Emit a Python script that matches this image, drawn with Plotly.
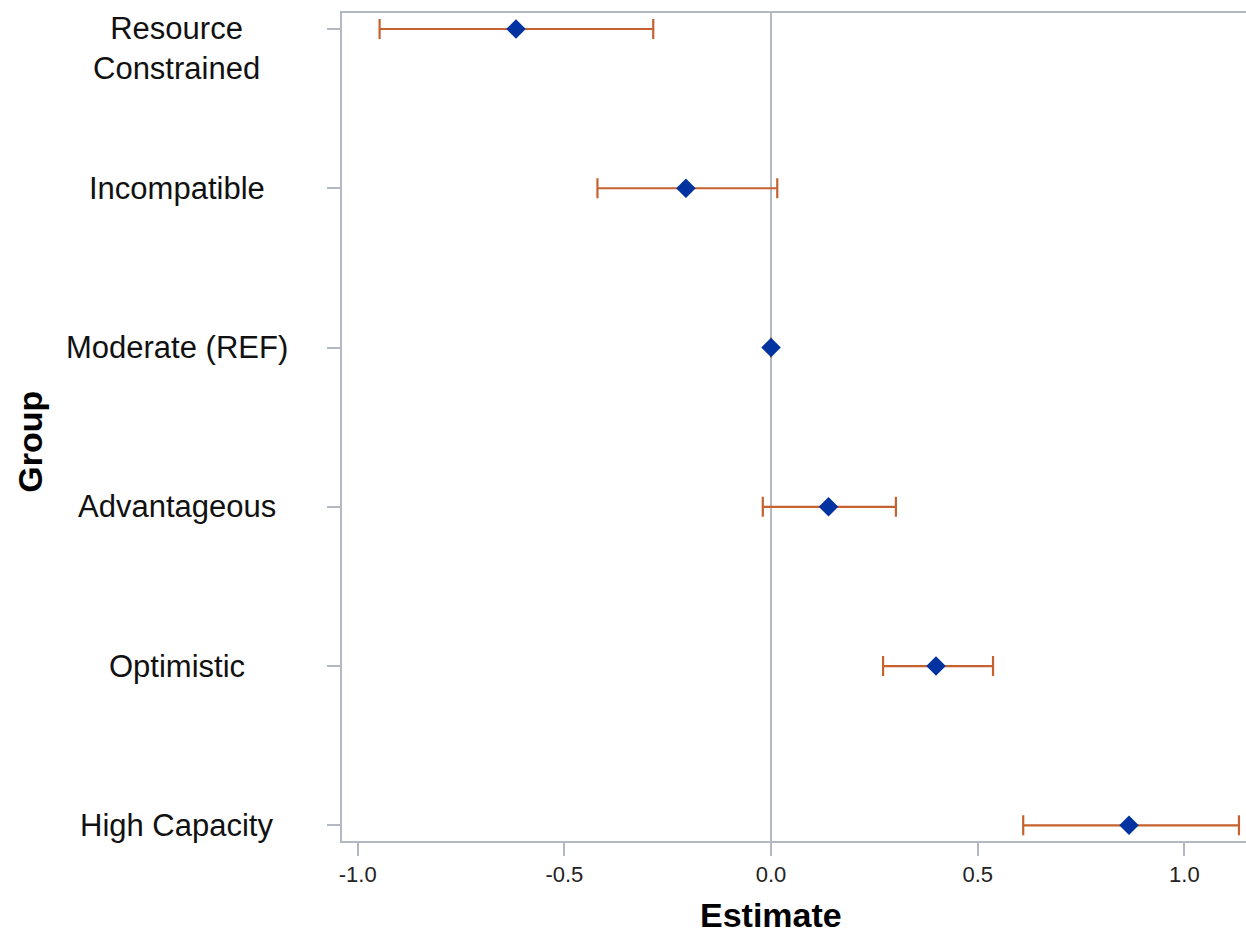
import plotly.graph_objects as go

# ---- data ----
groups = ["Resource<br>Constrained", "Incompatible", "Moderate (REF)",
          "Advantageous", "Optimistic", "High Capacity"]
estimate = [-0.617, -0.206, 0.0, 0.139, 0.399, 0.866]
lower = [-0.947, -0.420, 0.0, -0.020, 0.271, 0.610]
upper = [-0.285, 0.015, 0.0, 0.302, 0.537, 1.132]
x_ticks = [-1.0, -0.5, 0.0, 0.5, 1.0]
x_ticktext = ["-1.0", "-0.5", "0.0", "0.5", "1.0"]

pos = list(range(len(groups)))
err_plus = [u - e for u, e in zip(upper, estimate)]
err_minus = [e - l for e, l in zip(estimate, lower)]

AXIS = "#b3b8c3"
fig = go.Figure()
fig.add_trace(go.Scatter(
    x=estimate, y=pos, mode="markers",
    marker=dict(symbol="diamond", size=15, color="#00339f",
                line=dict(width=0)),
    error_x=dict(type="data", array=err_plus, arrayminus=err_minus,
                 color="#c5622f", thickness=2.2, width=10),
    showlegend=False, cliponaxis=False,
))

W, H = 1246, 933
L, R, T, B = 341.5, 0, 13.3, 92.3
pw = W - L - R
ph = H - T - B
bottom_px = H - B


def fx(px):
    return (px - L) / pw


def fy(py):
    return (bottom_px - py) / ph


fig.update_layout(
    width=W, height=H,
    margin=dict(l=L, r=R, t=T, b=B, pad=0),
    plot_bgcolor="white", paper_bgcolor="white",
    font=dict(family="Liberation Sans, Arial, sans-serif", color="#222222"),
    xaxis=dict(
        range=[-1.038, 1.149], tickvals=x_ticks, ticktext=x_ticktext,
        showgrid=False, zeroline=True, zerolinecolor=AXIS, zerolinewidth=2,
        showline=True, linecolor=AXIS, linewidth=2, mirror=True,
        ticks="outside", ticklen=13, tickwidth=2, tickcolor=AXIS,
        tickfont=dict(size=22, color="#222222"),
    ),
    yaxis=dict(
        range=[5.0987, -0.1006], tickvals=pos, showticklabels=False,
        showgrid=False, zeroline=False,
        showline=True, linecolor=AXIS, linewidth=2, mirror=False,
        ticks="outside", ticklen=13, tickwidth=2, tickcolor=AXIS,
    ),
)

# category labels (centered, left of the axis)
FS = 31
lh = FS * 1.25
for p, g in zip(pos, groups):
    n = g.count("<br>") + 1
    fig.add_annotation(
        x=fx(176), xref="paper", y=p, yref="y", text=g, showarrow=False,
        xanchor="center", yanchor="middle", align="center",
        yshift=-(n - 1) * lh / 2,
        font=dict(size=FS, color="#111111"),
    )

# axis titles
fig.add_annotation(
    x=fx(771), xref="paper", y=fy(915), yref="paper",
    text="<b>Estimate</b>", showarrow=False, xanchor="center", yanchor="middle",
    font=dict(size=34, color="#000000"),
)
fig.add_annotation(
    x=fx(29), xref="paper", y=fy(442), yref="paper",
    text="<b>Group</b>", showarrow=False, textangle=-90,
    xanchor="center", yanchor="middle",
    font=dict(size=34, color="#000000"),
)

fig.write_html(
    "out.html",
    config={"displayModeBar": False},
    post_script="document.body.style.margin='0';"
                "document.body.style.overflow='hidden';"
                "document.documentElement.style.overflow='hidden';",
)
